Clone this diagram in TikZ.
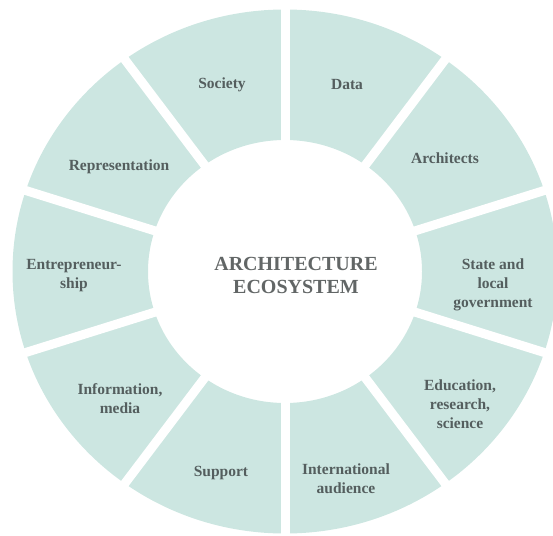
\documentclass[tikz,border=0pt]{standalone}
\usepackage{fontspec}
\setmainfont{Liberation Serif}
\usetikzlibrary{calc}
\definecolor{ringfill}{RGB}{204,230,225}
\definecolor{labeltext}{RGB}{84,94,94}
\definecolor{hubtext}{RGB}{98,102,102}
\begin{document}
\begin{tikzpicture}[x=1pt,y=-1pt,
  segment label/.style={text=labeltext, align=center, inner sep=0pt,
    font=\bfseries\fontsize{15.5}{19}\selectfont},
  hub label/.style={text=hubtext, align=center, inner sep=0pt,
    font=\bfseries\fontsize{20}{23}\selectfont}]
\useasboundingbox (0,0) rectangle (553,535);
\clip (0,0) rectangle (553,535);
\coordinate (C) at (285,271.5);
% ring of ten segments: annulus, then white gaps along the radii
\fill[ringfill, even odd rule] (C) ellipse [x radius=272.5, y radius=262]
                               (C) ellipse [x radius=137, y radius=131.5];
\foreach \a in {18,54,...,342}
  \draw[white, line width=9pt] (C) -- ($(C)+({300*1.04*cos(\a)},{300*sin(\a)})$);
% hub
\node[hub label] (hub) at (296,275.5) {ARCHITECTURE\\ECOSYSTEM};
% segment labels, clockwise from the top
\node[segment label] (data)   at (347,85)    {Data};
\node[segment label] (arch)   at (445,158)   {Architects};
\node[segment label] (state)  at (493,285)   {State and\\local\\government};
\node[segment label] (edu)    at (460,404)   {Education,\\research,\\science};
\node[segment label] (intl)   at (346,479)   {International\\audience};
\node[segment label] (supp)   at (221,473)   {Support};
\node[segment label] (info)   at (120,399)   {Information,\\media};
\node[segment label] (entr)   at (74,276)    {Entrepreneur-\\ship};
\node[segment label] (repr)   at (119,166.5) {Representation};
\node[segment label] (soc)    at (222,85)    {Society};
\end{tikzpicture}
\end{document}
